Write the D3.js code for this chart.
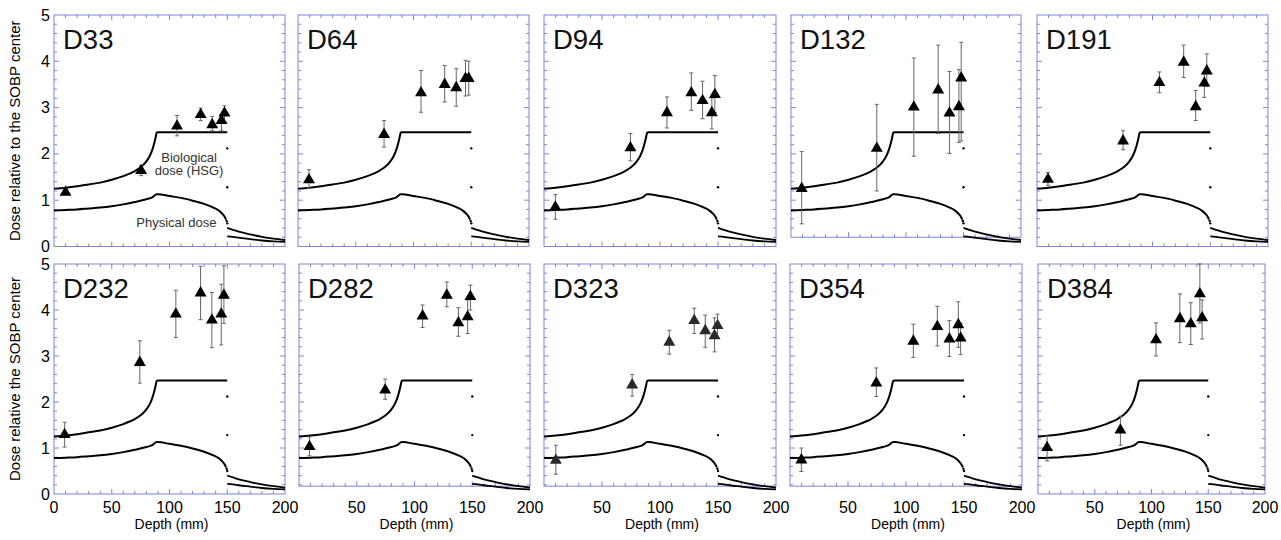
<!DOCTYPE html>
<html>
<head>
<meta charset="utf-8">
<script src="https://cdn.jsdelivr.net/npm/d3@7"></script>
<style>
body { margin: 0; background: #fff; }
svg { display: block; font-family: "Liberation Sans", Arial, Helvetica, sans-serif; }
</style>
</head>
<body>
<svg id="chart"></svg>
<script>
var width = 1281, height = 540

// model curves (depth mm, dose relative to SOBP centre)
var bioCurve = [[0,1.25],[10,1.27],[20,1.30],[30,1.34],[40,1.38],[50,1.44],[60,1.52],[65,1.57],[70,1.63],[75,1.71],[80,1.84],[83,1.96],[85,2.08],[87,2.25],[88,2.36],[89,2.46],[90,2.47],[150,2.47]]
var bioFalloff = [[150,2.12],[150,1.28]]
var bioTail = [[150,0.40],[155,0.36],[160,0.32],[170,0.26],[180,0.21],[190,0.17],[200,0.14]]
var physCurve = [[0,0.78],[10,0.79],[20,0.80],[30,0.82],[40,0.84],[50,0.87],[60,0.91],[70,0.96],[80,1.02],[85,1.06],[89,1.13],[90,1.13],[100,1.09],[110,1.05],[120,0.99],[130,0.92],[138,0.84],[143,0.77],[146,0.70],[148,0.63],[149,0.58]]
var physFalloff = [[149.5,0.55],[150,0.50]]
var physTail = [[150,0.22],[155,0.21],[160,0.19],[170,0.16],[180,0.13],[190,0.11],[200,0.10]]

// measured points: [depth, value, errLow, errHigh]
var d33 = [[10,1.17,1.12,1.22],[75.4,1.64,1.53,1.75],[106.5,2.60,2.39,2.83],[127,2.85,2.72,2.99],[137,2.63,2.50,2.81],[145,2.72,2.50,2.84],[147.6,2.88,2.70,3.04]]
var d64 = [[9.5,1.44,1.26,1.66],[74.5,2.42,2.15,2.72],[106.5,3.32,2.90,3.80],[127,3.50,3.12,3.91],[137,3.43,3.03,3.84],[145,3.63,3.25,4.02],[147.8,3.63,3.27,4.00]]
var d94 = [[9.8,0.85,0.59,1.12],[74.5,2.13,1.85,2.44],[106,2.89,2.56,3.23],[127,3.32,2.94,3.75],[136.7,3.15,2.76,3.57],[144.7,2.89,2.54,3.21],[147.3,3.28,2.89,3.69]]
var d132 = [[9.3,1.25,0.49,2.05],[74.6,2.12,1.20,3.07],[106.8,3.01,1.95,4.07],[128,3.38,2.44,4.35],[137.8,2.88,2.01,3.78],[146,3.02,2.25,3.82],[148,3.64,2.28,4.41]]
var d191 = [[9.5,1.45,1.32,1.60],[74.5,2.28,2.09,2.50],[106,3.54,3.32,3.77],[127,3.98,3.65,4.35],[137.4,3.02,2.72,3.37],[144.9,3.53,3.22,3.77],[147,3.79,3.46,4.16]]
var d232 = [[9.2,1.29,1.02,1.56],[74.3,2.86,2.41,3.33],[105.5,3.91,3.40,4.43],[126.9,4.37,3.79,4.95],[136.7,3.78,3.18,4.38],[144.8,3.91,3.24,4.56],[147.1,4.32,3.71,4.96]]
var d282 = [[9.1,1.03,0.83,1.24],[74.6,2.26,2.06,2.50],[107,3.87,3.62,4.11],[128,4.32,4.07,4.61],[138,3.72,3.43,4.05],[146,3.85,3.49,4.22],[148.4,4.29,4.00,4.54]]
var d323 = [[10.2,0.73,0.43,1.06],[76,2.37,2.13,2.60],[108,3.30,3.04,3.56],[129.5,3.77,3.49,4.04],[139,3.55,3.19,3.89],[147,3.44,3.09,3.83],[149.6,3.66,3.39,3.91]]
var d354 = [[9.8,0.74,0.49,1.00],[74.4,2.41,2.12,2.74],[106.3,3.32,2.97,3.69],[127,3.64,3.22,4.08],[137.4,3.37,2.99,3.77],[145.1,3.68,3.19,4.18],[147.1,3.39,3.03,3.71]]
var d384 = [[8,1.01,0.72,1.26],[72.6,1.39,1.06,1.69],[104,3.35,3.00,3.72],[125,3.81,3.29,4.35],[134.6,3.70,3.25,4.16],[142.6,4.35,3.72,5.00],[144.6,3.83,3.37,4.22]]

var panelNames = ['D33','D64','D94','D132','D191','D232','D282','D323','D354','D384']
var panelData = [d33, d64, d94, d132, d191, d232, d282, d323, d354, d384]

var xTicks = [0, 50, 100, 150, 200]
var yTicks = [0, 1, 2, 3, 4, 5]
var yTitles = ['Dose relative to the SOBP center', 'Dose relative the SOBP center']
var xTitle = 'Depth (mm)'

// layout of the pasted panels
var colLeft = [[54, 298, 544, 791, 1037], [54, 299, 544, 790, 1038]]
var colWidth = [[231, 231, 232, 230, 231], [231, 231, 232, 232, 227]]
var rowTop = [15, 264]
var rowBottom = [246.5, 494]
var frameFloor = [0, 0, 0, 0.2, 0, 0, 0.17, 0.17, 0.17, 0]

var frameColor = '#7f84d9'

var svg = d3.select('#chart').attr('width', width).attr('height', height)

panelNames.forEach(function(name, i) {
	var row = Math.floor(i / 5), col = i % 5
	var x = d3.scaleLinear().domain([0, 200]).range([colLeft[row][col], colLeft[row][col] + colWidth[row][col]])
	var y = d3.scaleLinear().domain([0, 5]).range([rowBottom[row], rowTop[row]])
	var g = svg.append('g').attr('class', 'panel')

	var x0 = x(0), x1 = x(200), y0 = y(frameFloor[i]), y1 = y(5)

	// frame
	g.append('rect')
		.attr('x', x0).attr('y', y1)
		.attr('width', x1 - x0).attr('height', y0 - y1)
		.attr('fill', 'none').attr('stroke', frameColor).attr('stroke-width', 1)

	// inward ticks on all four sides
	var xMinor = d3.range(10, 200, 10)
	var yMinor = d3.range(1, 25).map(function(v) {return v / 5}).filter(function(v) {return v > frameFloor[i] + 0.01})
	var ticks = g.append('g').attr('stroke', frameColor).attr('stroke-width', 1)
	xMinor.forEach(function(v) {
		var len = v % 50 === 0 ? 5 : 3
		ticks.append('line').attr('x1', x(v)).attr('x2', x(v)).attr('y1', y0).attr('y2', y0 - len)
		ticks.append('line').attr('x1', x(v)).attr('x2', x(v)).attr('y1', y1).attr('y2', y1 + len)
	})
	yMinor.forEach(function(v) {
		var len = Math.abs(v - Math.round(v)) < 1e-6 ? 5 : 3
		ticks.append('line').attr('y1', y(v)).attr('y2', y(v)).attr('x1', x0).attr('x2', x0 + len)
		ticks.append('line').attr('y1', y(v)).attr('y2', y(v)).attr('x1', x1).attr('x2', x1 - len)
	})

	// model curves
	var path = d3.line().x(function(d) {return x(d[0])}).y(function(d) {return y(d[1])}).curve(d3.curveMonotoneX)
	var curves = g.append('g').attr('fill', 'none').attr('stroke', '#000').attr('stroke-width', 2)
	curves.append('path').attr('d', path(bioCurve))
	curves.append('path').attr('d', path(physCurve))
	curves.append('path').attr('d', path(bioTail)).attr('stroke-width', 1.8)
	curves.append('path').attr('d', path(physTail)).attr('stroke-width', 1.8)
	g.selectAll('circle.fall')
		.data(bioFalloff.concat(physFalloff))
		.enter().append('circle')
		.attr('class', 'fall')
		.attr('cx', function(d) {return x(d[0])})
		.attr('cy', function(d) {return y(d[1])})
		.attr('r', 1.2)
		.attr('fill', '#000')

	// error bars
	var pts = panelData[i]
	var err = g.append('g').attr('stroke', '#666').attr('stroke-width', 1)
	pts.forEach(function(p) {
		err.append('line').attr('x1', x(p[0])).attr('x2', x(p[0])).attr('y1', y(p[2])).attr('y2', y(p[3]))
		err.append('line').attr('x1', x(p[0]) - 2).attr('x2', x(p[0]) + 2).attr('y1', y(p[2])).attr('y2', y(p[2]))
		err.append('line').attr('x1', x(p[0]) - 2).attr('x2', x(p[0]) + 2).attr('y1', y(p[3])).attr('y2', y(p[3]))
	})

	// measured points
	g.selectAll('path.pt')
		.data(pts)
		.enter().append('path')
		.attr('class', 'pt')
		.attr('d', d3.symbol().type(d3.symbolTriangle).size(62))
		.attr('transform', function(d) {return 'translate(' + x(d[0]) + ',' + y(d[1]) + ')'})
		.attr('fill', name === 'D323' ? '#2a2a2a' : '#000')

	// panel name
	g.append('text')
		.attr('x', x0 + 9).attr('y', y1 + 34)
		.attr('font-size', 27.5)
		.attr('fill', '#111')
		.text(name)

	// y axis labels on first column
	if (col === 0) {
		g.selectAll('text.ytick')
			.data(yTicks)
			.enter().append('text')
			.attr('class', 'ytick')
			.attr('x', x0 - 4)
			.attr('y', function(d) {return y(d) + 5.5})
			.attr('text-anchor', 'end')
			.attr('font-size', 16)
			.text(function(d) {return d})
		svg.append('text')
			.attr('transform', 'translate(20,' + ((rowTop[row] + rowBottom[row]) / 2) + ') rotate(-90)')
			.attr('text-anchor', 'middle')
			.attr('font-size', 15)
			.text(yTitles[row])
	}

	// x axis labels on bottom row
	if (row === 1) {
		g.selectAll('text.xtick')
			.data(col === 0 ? xTicks : xTicks.slice(1))
			.enter().append('text')
			.attr('class', 'xtick')
			.attr('x', function(d) {return x(d)})
			.attr('y', 513)
			.attr('text-anchor', 'middle')
			.attr('font-size', 16)
			.text(function(d) {return d})
		g.append('text')
			.attr('x', (x0 + x1) / 2 + 2).attr('y', 529)
			.attr('text-anchor', 'middle')
			.attr('font-size', 14)
			.text(xTitle)
	}

	// curve annotations in the first panel
	if (i === 0) {
		var ann = g.append('g').attr('font-size', 13).attr('fill', '#333').attr('text-anchor', 'middle')
		ann.append('text').attr('x', x(117)).attr('y', y(1.82)).text('Biological')
		ann.append('text').attr('x', x(117)).attr('y', y(1.54)).text('dose (HSG)')
		ann.append('text').attr('x', x(106)).attr('y', y(0.42)).text('Physical dose')
	}
})
</script>
</body>
</html>
